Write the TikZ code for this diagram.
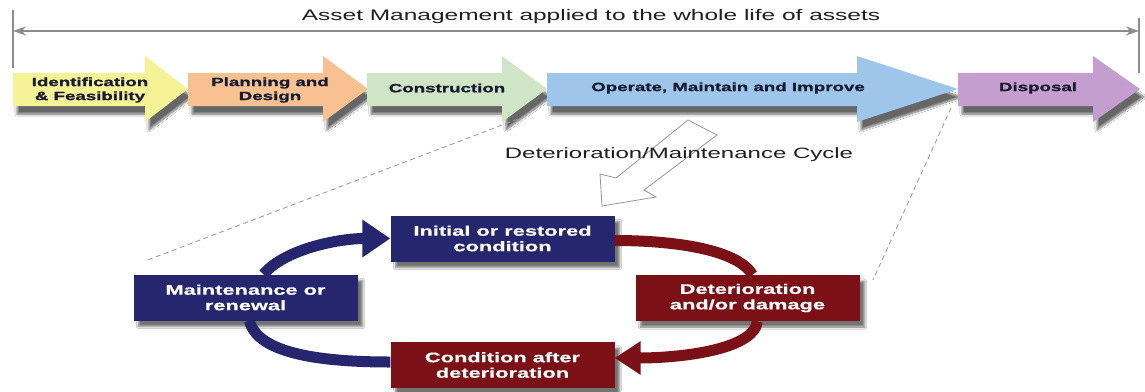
\documentclass[tikz,border=0pt]{standalone}
\usepackage{fontspec}
\setmainfont{Liberation Sans}
\newfontfamily\widesans[FakeStretch=1.6]{Liberation Sans}
\newfontfamily\wideheavy[FakeStretch=1.56,FakeBold=1.1]{Liberation Sans Bold}
\newfontfamily\widebold[FakeStretch=1.58,FakeBold=0.5]{Liberation Sans Bold}
\usetikzlibrary{arrows.meta,shadows.blur}

\definecolor{idfill}{RGB}{246,242,150}
\definecolor{planfill}{RGB}{247,193,146}
\definecolor{consfill}{RGB}{207,229,197}
\definecolor{opfill}{RGB}{157,198,234}
\definecolor{dispfill}{RGB}{196,158,206}
\definecolor{labelink}{RGB}{24,26,48}
\definecolor{navy}{RGB}{37,38,109}
\definecolor{maroon}{RGB}{123,17,23}
\definecolor{lifegray}{RGB}{140,140,140}
\definecolor{guidegray}{RGB}{150,150,150}

\begin{document}
\begin{tikzpicture}[x=1pt,y=-1pt,
  stagearrow/.style={draw=none,
    blur shadow={shadow xshift=4pt,shadow yshift=-8pt,shadow blur steps=12,shadow opacity=60}},
  stagelabel/.style={font=\fontsize{12}{14}\selectfont\wideheavy,
    text=labelink,align=center,inner sep=0pt},
  cyclebox/.style={rectangle,minimum width=224pt,minimum height=46pt,inner sep=0pt,
    text=white,align=center,font=\fontsize{13.8}{15.5}\selectfont\widebold,
    blur shadow={shadow xshift=5pt,shadow yshift=-6pt,shadow blur steps=8,shadow opacity=55}},
  lifeline/.style={draw=lifegray,line width=1.2pt},
  guide/.style={draw=guidegray,line width=0.8pt,dash pattern=on 5pt off 3.5pt},
  bluearc/.style={draw=navy,line width=11pt},
  redarc/.style={draw=maroon,line width=11pt},
  plaintext/.style={text=black!88,inner sep=0pt}
]
\fill[white] (0,0) rectangle (1145,391);
\useasboundingbox (0,0) rectangle (1145,391);

% whole-life span line with end bars
\draw[lifeline] (13,10) -- (13,68);
\draw[lifeline] (1139,18) -- (1139,73);
\coordinate (lifeL) at (13,31);
\coordinate (lifeR) at (1139,31);
\draw[lifeline,{Stealth[length=13pt,width=9pt,inset=4pt]}-{Stealth[length=13pt,width=9pt,inset=4pt]}] (lifeL) -- (lifeR);
\node[plaintext,font=\fontsize{15.3}{17}\selectfont\widesans] (title) at (591,17)
  {Asset Management applied to the whole life of assets};

% life-cycle stage arrows
\fill[stagearrow,fill=idfill]   (13,73) -- (145,73) -- (145,56) -- (188,89) -- (145,122) -- (145,106) -- (13,106) -- cycle;
\fill[stagearrow,fill=planfill] (188,73) -- (323,73) -- (323,56) -- (368,89) -- (323,122) -- (323,106) -- (188,106) -- cycle;
\fill[stagearrow,fill=consfill] (367,73) -- (502,73) -- (502,56) -- (547,89) -- (502,122) -- (502,106) -- (367,106) -- cycle;
\fill[stagearrow,fill=opfill]   (547,73) -- (857,73) -- (857,56) -- (958,89) -- (857,122) -- (857,106) -- (547,106) -- cycle;
\fill[stagearrow,fill=dispfill] (958,73) -- (1093,73) -- (1093,56) -- (1140,89) -- (1093,122) -- (1093,106) -- (958,106) -- cycle;

\node[stagelabel] (idlbl)   at (90,90)   {Identification\\\& Feasibility};
\node[stagelabel] (planlbl) at (270,90)  {Planning and\\Design};
\node[stagelabel] (conslbl) at (447,88)  {Construction};
\node[stagelabel] (oplbl)   at (728,88)  {Operate, Maintain and Improve};
\node[stagelabel] (displbl) at (1038,88) {Disposal};

% dashed guides opening onto the cycle
\coordinate (guideL1) at (518,119);
\coordinate (guideL2) at (145,261);
\coordinate (guideR1) at (951,108);
\coordinate (guideR2) at (873,280);
\draw[guide] (guideL1) -- (guideL2);
\draw[guide] (guideR1) -- (guideR2);

% hollow pointer into the cycle
\draw[draw=guidegray,fill=white,line width=0.8pt,line join=miter]
  (688,120) -- (616,178) -- (600,174) -- (602,206) -- (656,197) -- (644,190) -- (717,135) -- cycle;
\node[plaintext,font=\fontsize{15}{17}\selectfont\widesans] (cyclelbl) at (679,155)
  {Deterioration/Maintenance Cycle};

% cycle boxes
\node[cyclebox,fill=navy]   (init)  at (502.5,238.5) {Initial or restored\\condition};
\node[cyclebox,fill=navy]   (maint) at (245.5,297.5) {Maintenance or\\renewal};
\node[cyclebox,fill=maroon] (det)   at (747.5,298)   {Deterioration\\and/or damage};
\node[cyclebox,fill=maroon] (cond)  at (502.5,365)   {Condition after\\deterioration};

% cycle arcs
\draw[bluearc,-{Triangle[length=28pt 0 0,width=36pt 0 0]}]
  ([xshift=18pt]maint.north) .. controls +(22,-26) and +(-50,0) .. (init.west);
\draw[bluearc]
  ([xshift=4pt]maint.south) .. controls +(8,34) and +(-65,0) .. ([yshift=3pt]cond.west);
\draw[redarc]
  ([yshift=-2pt]init.east) .. controls +(65,0) and +(-14,-24) .. ([xshift=5pt]det.north);
\draw[redarc,-{Triangle[length=26pt 0 0,width=32pt 0 0]}]
  ([xshift=10pt]det.south) .. controls +(-4,30) and +(60,0) .. ([yshift=7pt]cond.east);
\end{tikzpicture}
\end{document}
